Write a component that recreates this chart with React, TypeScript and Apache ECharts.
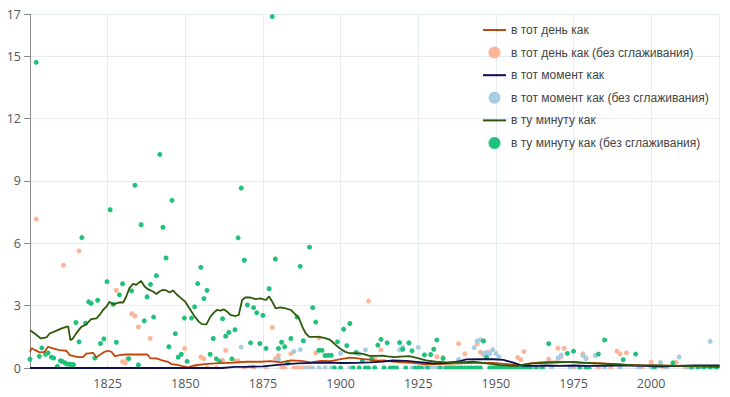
import React, { useEffect, useRef } from "react";
import * as echarts from "echarts";

// ---- series names ----
const NAMES = [
  "в тот день как",
  "в тот день как (без сглаживания)",
  "в тот момент как",
  "в тот момент как (без сглаживания)",
  "в ту минуту как",
  "в ту минуту как (без сглаживания)",
];

// ---- axis ticks ----
const X_MIN = 1800;
const X_MAX = 2022;
const X_STEP = 25;
const Y_MIN = 0;
const Y_MAX = 17;
const Y_STEP = 3;

// ---- smoothed lines [year, value] ----
const dayLine: [number, number][] = [
  [1800, 0.77], [1800.5, 0.96], [1801.5, 0.87], [1803.1, 0.75], [1804.7, 0.78], [1805.8, 1.02],
  [1807.4, 0.94], [1809.5, 0.86], [1811.7, 0.83], [1812.8, 0.62], [1815.5, 0.52], [1817.1, 0.52],
  [1818.1, 0.69], [1820.3, 0.73], [1821.4, 0.52], [1822.4, 0.62], [1824, 0.78], [1825.1, 0.83],
  [1826.2, 0.78], [1827.3, 0.57], [1828.9, 0.62], [1830.5, 0.65], [1837.8, 0.65], [1838.8, 0.46],
  [1840.7, 0.46], [1842.3, 0.38], [1844.4, 0.3], [1845.5, 0.19], [1847.6, 0.15], [1849.8, 0.06],
  [1850.9, 0.03], [1852.7, 0.12], [1857, 0.2], [1861.3, 0.23], [1865.6, 0.26], [1869.9, 0.3],
  [1874.2, 0.3], [1877.5, 0.33], [1880.7, 0.27], [1884, 0.37], [1887.2, 0.34], [1890.4, 0.27],
  [1893.6, 0.34], [1896.9, 0.33], [1899.6, 0.42], [1902.9, 0.5], [1905, 0.47], [1907.2, 0.43],
  [1909.3, 0.4], [1911.4, 0.35], [1914, 0.36], [1916.7, 0.31], [1919.9, 0.27], [1923.1, 0.25],
  [1927.6, 0.18], [1932.9, 0.2], [1938.3, 0.22], [1943.7, 0.25], [1949.1, 0.25], [1953.4, 0.19],
  [1957.7, 0.13], [1961, 0.22], [1964.2, 0.27], [1968.5, 0.3], [1972.8, 0.29], [1977.2, 0.25],
  [1981.5, 0.25], [1985.8, 0.21], [1991.2, 0.16], [1996.6, 0.14], [2000.9, 0.13], [2007.3, 0.1],
  [2013.8, 0.1], [2022, 0.06],
];

const momentLine: [number, number][] = [
  [1800, 0], [1862, 0], [1866, 0.05], [1870, 0.06], [1875, 0.08], [1880.7, 0.16], [1886.1, 0.22],
  [1891.5, 0.25], [1896.9, 0.26], [1900, 0.24], [1905, 0.25], [1909.3, 0.27], [1913.6, 0.31],
  [1916.8, 0.36], [1921.1, 0.34], [1925.4, 0.28], [1929.7, 0.22], [1934, 0.23], [1938.4, 0.33],
  [1940.5, 0.41], [1944.8, 0.42], [1949.1, 0.42], [1952.4, 0.39], [1955.6, 0.26], [1958.8, 0.1],
  [1962, 0.1], [1966.3, 0.12], [1970.6, 0.1], [1975, 0.12], [1979.3, 0.1], [1983.6, 0.1],
  [1987.9, 0.12], [1992.2, 0.11], [1997.6, 0.1], [2003, 0.07], [2008.4, 0.1], [2013.8, 0.13],
  [2022, 0.13],
];

const minuteLine: [number, number][] = [
  [1800, 1.82], [1801.5, 1.66], [1803.5, 1.42], [1805.3, 1.47], [1806.3, 1.66], [1808, 1.76],
  [1810, 1.89], [1811.7, 1.98], [1812.3, 2.0], [1813, 1.34], [1813.8, 1.42], [1815, 1.69],
  [1816.5, 1.98], [1818, 2.08], [1819.7, 2.35], [1821.4, 2.39], [1822.4, 2.55], [1823.5, 2.79],
  [1824.6, 2.95], [1825.6, 3.19], [1826.7, 3.06], [1827.8, 3.11], [1828.9, 3.15], [1830, 3.15],
  [1831, 3.44], [1832, 3.84], [1833.2, 4.05], [1834.2, 4.0], [1835.8, 4.19], [1836.9, 3.92],
  [1838, 3.79], [1839.6, 3.68], [1840.7, 3.56], [1841.7, 3.68], [1842.8, 3.76], [1843.9, 3.73],
  [1845, 3.63], [1846, 3.73], [1847.1, 3.56], [1848.7, 3.35], [1850, 3.19], [1851, 2.95],
  [1852.7, 2.55], [1854.3, 2.23], [1855.4, 2.11], [1856.8, 2.1], [1858.1, 2.47], [1859.2, 2.66],
  [1860.2, 2.79], [1861.3, 2.76], [1862.4, 2.82], [1863.5, 2.71], [1864.5, 2.55], [1866.2, 2.5],
  [1867.2, 2.55], [1868.3, 3.27], [1869.4, 3.4], [1871, 3.39], [1872.6, 3.31], [1874.2, 3.35],
  [1875.9, 3.27], [1877, 3.44], [1878, 3.19], [1879.1, 2.87], [1880.7, 2.92], [1882.3, 2.87],
  [1884, 2.79], [1885.6, 2.55], [1886.6, 2.39], [1887.7, 1.98], [1888.8, 1.66], [1889.9, 1.5],
  [1891.5, 1.5], [1893.1, 1.5], [1894.7, 1.45], [1896.3, 1.38], [1897.4, 1.25], [1898.5, 1.1],
  [1899.7, 0.95], [1901.3, 0.79], [1902.9, 0.71], [1905, 0.72], [1907.2, 0.68], [1909.3, 0.58],
  [1911.4, 0.58], [1913.5, 0.6], [1915.1, 0.56], [1917.3, 0.52], [1919.4, 0.55], [1922.1, 0.57],
  [1924.8, 0.48], [1927.5, 0.37], [1930.7, 0.3], [1934, 0.27], [1937.2, 0.28], [1940, 0.28],
  [1942.7, 0.3], [1947, 0.22], [1951.3, 0.14], [1956.7, 0.1], [1962, 0.22], [1966.3, 0.25],
  [1970.6, 0.27], [1975, 0.29], [1981.4, 0.22], [1987.9, 0.19], [1994.3, 0.14], [2000.8, 0.13],
  [2009.4, 0.1], [2022, 0.06],
];

// ---- raw points [year, value] ----
const dayRaw: [number, number][] = [
  [1802, 7.16], [1810.8, 4.94], [1815.8, 5.63], [1827.8, 3.74], [1829.8, 0.3], [1830.6, 0.24],
  [1831.3, 0.44], [1832.8, 2.61], [1833.8, 2.5], [1834.9, 1.97], [1838.7, 1.42], [1849.8, 0.94],
  [1853, 0], [1855, 0.53], [1856, 0.44], [1857, 0], [1860, 0], [1862, 0.37], [1863, 0.85],
  [1866, 0.34], [1867, 0.34], [1869, 0], [1872, 0], [1876, 0], [1878, 1.95], [1879, 0.45],
  [1880, 0.6], [1881, 0], [1882, 0], [1884, 0.69], [1885, 0], [1886, 0], [1887, 0], [1888, 0],
  [1889, 0], [1890, 0], [1892, 0.73], [1893, 1.45], [1895, 0], [1901, 1.85], [1909, 3.22],
  [1911, 0.48], [1913, 0.87], [1927, 0], [1929, 0], [1930, 0], [1931, 0.54], [1933, 0.51],
  [1938, 1.17], [1940, 0.68], [1944, 1.16], [1945, 0.76], [1946, 0.65], [1948, 0.76], [1950, 0],
  [1953, 0], [1957, 0.51], [1958, 0.41], [1959, 0.79], [1963, 0], [1964, 0], [1965, 0],
  [1967, 0.43], [1970, 0.95], [1971, 0.54], [1972, 0.95], [1975, 0], [1978, 0.68], [1979, 0.49],
  [1983, 0], [1987, 0], [1989, 0.81], [1990, 0.68], [1992, 0.73], [1997, 0], [2000, 0.29],
  [2004, 0], [2008, 0.27], [2011, 0],
];

const momentRaw: [number, number][] = [
  [1868, 1.0], [1880, 0.42], [1885, 0.8], [1887, 0.88], [1889, 0], [1891, 0], [1893, 0],
  [1895, 0], [1897, 0], [1900, 0.71], [1903, 0], [1906, 0.68], [1908, 0.87], [1911, 0],
  [1914, 0], [1917, 0], [1919, 0.87], [1920, 1.0], [1922, 1.2], [1923, 0], [1925, 0.99],
  [1926, 0], [1927, 0], [1928, 0], [1929, 0], [1930, 0], [1931, 0], [1932, 0], [1933, 0],
  [1934, 0], [1935, 0], [1936, 0], [1938, 0.41], [1939, 0], [1943, 0.98], [1944, 1.3],
  [1945, 1.35], [1946, 0.7], [1947, 0.75], [1948, 0.68], [1949, 0.88], [1950, 0.7], [1951, 0.54],
  [1953, 0], [1955, 0], [1957, 0], [1960, 0], [1962, 0], [1965, 0], [1968, 0], [1970, 0.48],
  [1971, 0.62], [1974, 0], [1978, 0.6], [1979, 0.44], [1982, 0.6], [1985, 0], [1990, 0],
  [1996, 0], [2000, 0], [2003, 0.26], [2005, 0], [2009, 0.53], [2012, 0], [2016, 0], [2019, 1.28],
];

const minuteRaw: [number, number][] = [
  [1800, 0.42], [1802, 14.7], [1803, 0.56], [1803.8, 0.97], [1805, 0.66], [1805.8, 0.73],
  [1806.9, 0.52], [1807.6, 0.48], [1808.8, 0.08], [1809.8, 0.35], [1810.5, 0.31], [1811.3, 0.24],
  [1812, 0.19], [1812.8, 0.18], [1813.4, 0.16], [1814, 0.16], [1814.8, 2.19], [1815.8, 1.26],
  [1816.7, 6.27], [1817.9, 2.16], [1818.9, 3.18], [1819.7, 3.11], [1820.9, 0.48], [1821.8, 3.26],
  [1822.7, 1.18], [1823.8, 1.4], [1824.8, 4.15], [1825.8, 7.61], [1826.8, 3.06], [1827.8, 1.24],
  [1828.8, 3.52], [1829.8, 4.05], [1831.8, 0.45], [1832.7, 3.71], [1833.8, 8.79], [1834.9, 0.15],
  [1835.8, 6.89], [1836.8, 2.27], [1837.7, 3.42], [1838.8, 4.02], [1839.8, 2.45], [1840.7, 4.44],
  [1841.8, 10.27], [1842.8, 6.77], [1843.8, 5.29], [1844.7, 1.02], [1845.7, 8.06], [1846.8, 1.65],
  [1847.7, 0.52], [1848.7, 0.66], [1849.7, 2.4], [1850.6, 0.32], [1852, 2.4], [1853, 2.94],
  [1854, 4.06], [1855, 4.84], [1856, 3.34], [1857, 3.73], [1858, 0.66], [1859, 1.42], [1860, 0.44],
  [1861, 0.32], [1862, 2.37], [1863, 1.53], [1864, 1.71], [1865, 0.44], [1866, 1.84], [1867, 6.26],
  [1868, 8.65], [1869, 5.18], [1870, 3.03], [1871, 1.21], [1872, 2.9], [1873, 2.66], [1874, 1.18],
  [1875, 2.53], [1876, 0.94], [1877, 3.81], [1878, 16.9], [1879, 5.24], [1880, 0.94], [1881, 1.24],
  [1882, 1.02], [1883, 0.24], [1884, 1.42], [1886, 2.45], [1887, 4.89], [1888, 1.31], [1890, 5.81],
  [1891, 2.9], [1892, 2.21], [1893, 0.85], [1894, 0.85], [1895, 0.6], [1896, 0.61], [1897, 0.61],
  [1898, 0], [1899, 1.26], [1900, 0], [1901, 1.87], [1902, 1.08], [1903, 2.14], [1904, 0],
  [1905, 0.75], [1906, 0], [1907, 0.37], [1908, 0], [1909, 0], [1910, 0.44], [1911, 0],
  [1912, 1.1], [1913, 1.38], [1914, 0], [1915, 1.21], [1916, 0], [1917, 0], [1918, 0],
  [1919, 1.22], [1920, 0.9], [1921, 0], [1922, 1.21], [1923, 0.83], [1924, 0], [1925, 0],
  [1926, 0], [1927, 0.63], [1928, 0], [1929, 0.65], [1930, 0.9], [1931, 1.35], [1932, 0],
  [1933, 0.46], [1934, 0], [1935, 0], [1936, 0], [1937, 0], [1938, 0], [1939, 0], [1940, 0],
  [1941, 0], [1942, 0], [1943, 0], [1944, 0], [1945, 0], [1946, 1.3], [1947, 0.51], [1948, 0],
  [1949, 0], [1950, 0], [1951, 0], [1952, 0], [1953, 0], [1954, 0], [1955, 0], [1956, 0],
  [1957, 0], [1958, 0], [1959, 0], [1960, 0], [1961, 0], [1963, 0], [1965, 0], [1967, 1.17],
  [1973, 0.7], [1975, 0.81], [1977, 0], [1979, 0], [1980, 0], [1983, 0.67], [1985, 1.35],
  [1991, 0.4], [1995, 0.67], [2001, 0], [2007, 0.25], [2013, 0], [2015, 0], [2017, 0],
  [2019, 0], [2021, 0],
];

// ---- colours ----
const DAY_LINE_COLOR = "#c0470b";
const DAY_DOT_COLOR = "#fdb597";
const MOMENT_LINE_COLOR = "#0e0f52";
const MOMENT_DOT_COLOR = "#a7cde4";
const MINUTE_LINE_COLOR = "#2d5a08";
const MINUTE_DOT_COLOR = "#20c27b";

const TICK_FONT = "'Open Sans', sans-serif";
const LEGEND_FONT = "'Liberation Sans', Arial, sans-serif";
const LABEL_COLOR = "#555";
const GRID_COLOR = "#e6ebf3";

const LINE_ICON = "path://M0,0 L23,0 L23,2 L0,2 Z";

export default function App() {
  const ref = useRef<HTMLDivElement>(null);

  useEffect(() => {
    if (!ref.current) return;
    const chart = echarts.init(ref.current, undefined, { renderer: "svg" });

    const lineSeries = (name: string, data: [number, number][], color: string) => ({
      name,
      type: "line",
      data,
      showSymbol: false,
      symbol: "none",
      lineStyle: { color, width: 1.8 },
      itemStyle: { color },
      emphasis: { disabled: true },
    });
    const dotSeries = (name: string, data: [number, number][], color: string) => ({
      name,
      type: "scatter",
      data,
      symbol: "circle",
      symbolSize: 5,
      itemStyle: { color, opacity: 1 },
      emphasis: { disabled: true },
    });

    chart.setOption({
      animation: false,
      backgroundColor: "#fff",
      grid: { left: 30, right: 10.5, top: 14.5, bottom: 29, containLabel: false },
      // mask below the plot area so that dots on the zero line appear clipped, as in the reference
      graphic: [
        {
          type: "rect",
          z: 100,
          silent: true,
          shape: { x: 31, y: 369.2, width: 690, height: 4 },
          style: { fill: "#fff" },
        },
      ],
      xAxis: {
        type: "value",
        min: X_MIN,
        max: X_MAX,
        interval: X_STEP,
        axisLine: { show: false },
        axisTick: { show: false },
        splitLine: { show: true, lineStyle: { color: GRID_COLOR, width: 1 } },
        axisLabel: {
          showMinLabel: false,
          showMaxLabel: false,
          color: LABEL_COLOR,
          fontSize: 12.5,
          fontFamily: TICK_FONT,
          margin: 9,
          formatter: (v: number) => String(v),
        },
      },
      yAxis: {
        type: "value",
        min: Y_MIN,
        max: Y_MAX,
        interval: Y_STEP,
        axisLine: { show: true, lineStyle: { color: "#8c8c8c", width: 1 } },
        axisTick: { show: true, length: 6, lineStyle: { color: "#8c8c8c" } },
        splitLine: { show: true, lineStyle: { color: GRID_COLOR, width: 1 } },
        axisLabel: {
          showMinLabel: true,
          showMaxLabel: true,
          color: LABEL_COLOR,
          fontSize: 12.5,
          fontFamily: TICK_FONT,
          margin: 9,
        },
      },
      legend: {
        orient: "vertical",
        left: 483,
        top: 24,
        padding: 0,
        itemWidth: 23,
        itemHeight: 12,
        itemGap: 10.6,
        selectedMode: false,
        textStyle: { color: "#444", fontSize: 12, fontFamily: LEGEND_FONT },
        data: [
          { name: NAMES[0], icon: LINE_ICON },
          { name: NAMES[1], icon: "circle" },
          { name: NAMES[2], icon: LINE_ICON },
          { name: NAMES[3], icon: "circle" },
          { name: NAMES[4], icon: LINE_ICON },
          { name: NAMES[5], icon: "circle" },
        ],
      },
      series: [
        lineSeries(NAMES[0], dayLine, DAY_LINE_COLOR),
        dotSeries(NAMES[1], dayRaw, DAY_DOT_COLOR),
        lineSeries(NAMES[2], momentLine, MOMENT_LINE_COLOR),
        dotSeries(NAMES[3], momentRaw, MOMENT_DOT_COLOR),
        lineSeries(NAMES[4], minuteLine, MINUTE_LINE_COLOR),
        dotSeries(NAMES[5], minuteRaw, MINUTE_DOT_COLOR),
      ],
    });

    return () => chart.dispose();
  }, []);

  return (
    <div
      ref={ref}
      style={{ position: "fixed", left: 0, top: 0, width: 730, height: 397, background: "#fff" }}
    />
  );
}
